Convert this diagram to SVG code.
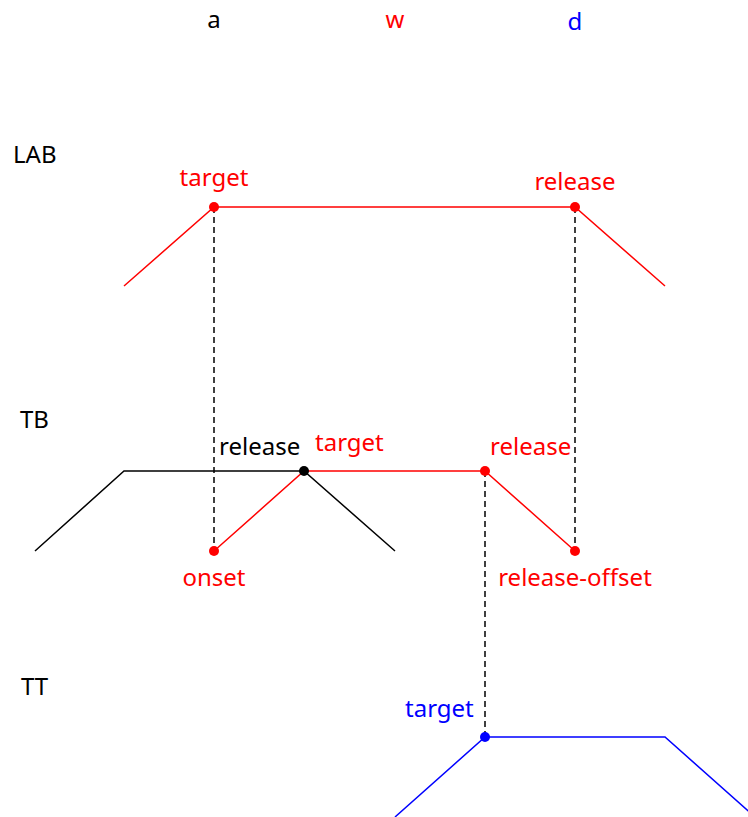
<svg xmlns="http://www.w3.org/2000/svg" width="748" height="817" viewBox="0 0 748 817">
<style>
text{font-family:"Noto Sans","Open Sans",sans-serif;font-size:24px}
.k{fill:#000}.r{fill:#f00}.b{fill:#00f}
.lk{stroke:#000;fill:none;stroke-width:1.5}.lr{stroke:#f00;fill:none;stroke-width:1.5}.lb{stroke:#00f;fill:none;stroke-width:1.5}
.d{stroke:#000;stroke-width:1.5;stroke-dasharray:6,4;fill:none}
.m{text-anchor:middle}
</style>
<rect width="748" height="817" fill="#fff"/>
<g id="header">
<text class="k m" x="214" y="28">a</text>
<text class="r m" x="395" y="28">w</text>
<text class="b m" x="575" y="30">d</text>
</g>
<g id="tier-labels">
<text class="k" x="13" y="163">LAB</text>
<text class="k" x="20" y="428">TB</text>
<text class="k" x="21" y="695">TT</text>
</g>
<g id="connectors">
<line class="d" x1="214" y1="207" x2="214" y2="551"/>
<line class="d" x1="575" y1="207" x2="575" y2="551"/>
<line class="d" x1="485" y1="471" x2="485" y2="737"/>
</g>
<g id="lab">
<polyline class="lr" points="124,286 214,207 575,207 665,286"/>
<circle class="r" cx="214" cy="207" r="5"/>
<circle class="r" cx="575" cy="207" r="5"/>
<text class="r m" x="214" y="186">target</text>
<text class="r m" x="575" y="190">release</text>
</g>
<g id="tb-a">
<polyline class="lk" points="35,551 124,471 304,471 395,551"/>
<text class="k" x="219" y="455">release</text>
</g>
<g id="tb-w">
<polyline class="lr" points="214,551 304,471 485,471 575,551"/>
<circle class="k" cx="304" cy="471" r="5"/>
<circle class="r" cx="485" cy="471" r="5"/>
<circle class="r" cx="214" cy="551" r="5"/>
<circle class="r" cx="575" cy="551" r="5"/>
<text class="r" x="315" y="451">target</text>
<text class="r" x="490" y="455">release</text>
<text class="r m" x="214" y="586">onset</text>
<text class="r m" x="575" y="586">release-offset</text>
</g>
<g id="tt">
<polyline class="lb" points="395,817 485,737 665,737 755,817"/>
<circle class="b" cx="485" cy="737" r="5"/>
<text class="b" x="405" y="717">target</text>
</g>
</svg>
